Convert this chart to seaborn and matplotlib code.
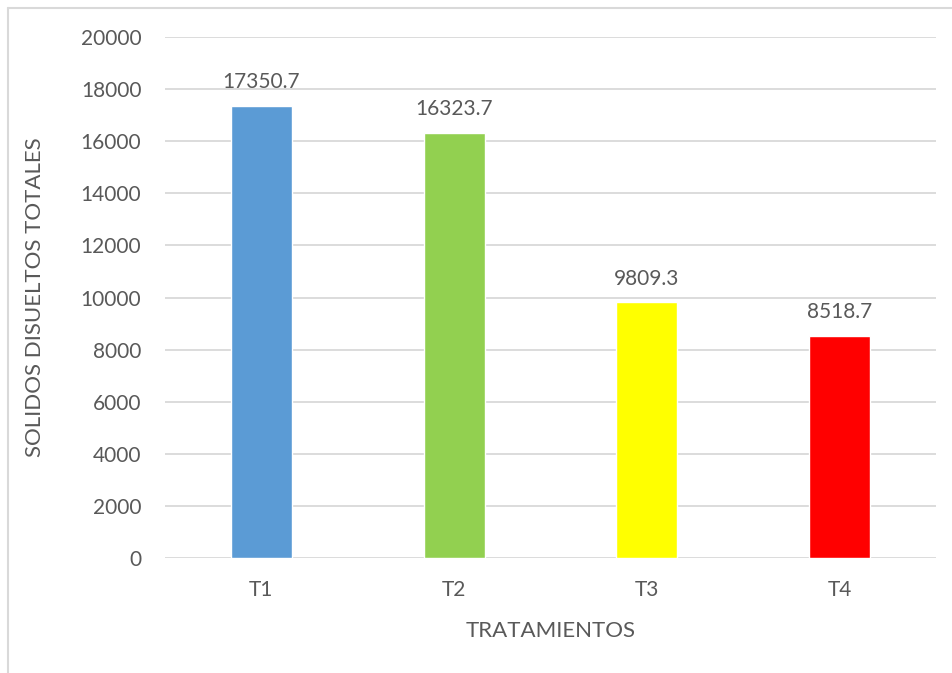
import matplotlib
matplotlib.use("Agg")
import matplotlib.pyplot as plt
import seaborn as sns
import pandas as pd
from matplotlib.lines import Line2D

tratamientos = ["T1", "T2", "T3", "T4"]
solidos = [17350.7, 16323.7, 9809.3, 8518.7]
colores = ["#5B9BD5", "#92D050", "#FFFF00", "#FF0000"]
y_ticks = [0, 2000, 4000, 6000, 8000, 10000, 12000, 14000, 16000, 18000, 20000]

sns.set_theme(style="white")
plt.rcParams["font.family"] = ["Lato", "DejaVu Sans"]
texto = "#595959"
rejilla = "#D9D9D9"
fs = 15

df = pd.DataFrame({"tratamiento": tratamientos, "sdt": solidos})

fig = plt.figure(figsize=(9.52, 6.73), dpi=100)
ax = fig.add_axes([165 / 952, 1 - 558 / 673, (936 - 165) / 952, (558 - 37) / 673])

sns.barplot(data=df, x="tratamiento", y="sdt", hue="tratamiento",
            palette=colores, width=0.316, legend=False, ax=ax,
            saturation=1, zorder=3)

ax.set_ylim(0, 20000)
ax.set_xlim(-0.5, 3.5)
ax.set_yticks(y_ticks)
ax.set_yticklabels([str(v) for v in y_ticks])
ax.grid(axis="y", color=rejilla, linewidth=1.3, zorder=0)
ax.set_axisbelow(True)
for s in ax.spines.values():
    s.set_visible(False)
ax.tick_params(axis="both", length=0, colors=texto, labelsize=fs)
ax.tick_params(axis="y", pad=17)
ax.tick_params(axis="x", pad=16)

for i, v in enumerate(solidos):
    ax.annotate(f"{v:.1f}", (i, v), xytext=(0, 10), textcoords="offset points",
                ha="center", va="bottom", fontsize=fs, color=texto)

ax.set_xlabel("TRATAMIENTOS", fontsize=16, color=texto, labelpad=15)
ax.set_ylabel("SOLIDOS DISUELTOS TOTALES", fontsize=16, color=texto, labelpad=26)

# chart area border
bx, by = 7.5 / 952, 1 - 7.5 / 673
fig.add_artist(Line2D([bx, 1.0], [by, by], transform=fig.transFigure,
                      color=rejilla, linewidth=1.5))
fig.add_artist(Line2D([bx, bx], [0.0, by], transform=fig.transFigure,
                      color=rejilla, linewidth=1.5))

fig.savefig("out.png", dpi=100)
